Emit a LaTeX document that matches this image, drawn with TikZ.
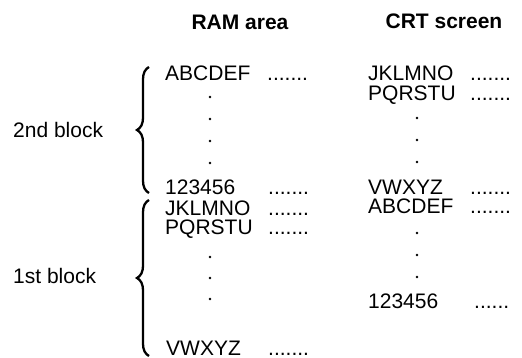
\documentclass[tikz,border=0pt]{standalone}
\usepackage{fontspec}
\setmainfont{Liberation Sans}
\usetikzlibrary{positioning,decorations.pathreplacing}

\begin{document}
\begin{tikzpicture}[
    x=1pt, y=-1pt,
    txt/.style={anchor=base west, inner sep=0pt, font=\fontsize{21}{22}\selectfont},
    hdr/.style={anchor=base, inner sep=0pt, font=\fontsize{21}{22}\selectfont\bfseries},
    lead/.style={txt},
    blockbrace/.style={decorate, decoration={brace, amplitude=12pt}, line width=2.3pt},
    vdot/.style={fill=black}
]
\useasboundingbox (0,0) rectangle (522,358);

% Headers
\node[hdr] (ramhead) at (240,30) {RAM area};
\node[hdr] (crthead) at (444,29) {CRT screen};

% RAM area
\node[txt] (ram1) at (165,81) {ABCDEF};
\node[txt] (ram2) at (165,195) {123456};
\node[txt] (ram3) at (165,215) {JKLMNO};
\node[txt] (ram4) at (165,235) {PQRSTU};
\node[txt] (ram5) at (166,355) {VWXYZ};
\node[lead] (ramdots1) at (267,81) {.......};
\node[lead] (ramdots2) at (268,195) {.......};
\node[lead] (ramdots3) at (268,215) {.......};
\node[lead] (ramdots4) at (268,235) {.......};
\node[lead] (ramdots5) at (268,355) {.......};
\foreach \y in {97,119,141,163,257,278,299}
    \fill[vdot] (210,\y) circle (1.4pt);

% CRT screen
\node[txt] (crt1) at (368,81) {JKLMNO};
\node[txt] (crt2) at (368,101) {PQRSTU};
\node[txt] (crt3) at (368,195) {VWXYZ};
\node[txt] (crt4) at (368,214) {ABCDEF};
\node[txt] (crt5) at (368,308) {123456};
\node[lead] (crtdots1) at (470,81) {.......};
\node[lead] (crtdots2) at (470,101) {.......};
\node[lead] (crtdots3) at (470,195) {.......};
\node[lead] (crtdots4) at (470,214) {.......};
\node[lead] (crtdots5) at (474,308) {......};
\foreach \y in {118,140,162,233,255,277}
    \fill[vdot] (417,\y) circle (1.4pt);

% Blocks
\draw[blockbrace] (149,193) -- (149,67);
\draw[blockbrace] (149,356) -- (149,200);
\node[txt] (block2) at (13,138) {2nd block};
\node[txt] (block1) at (13,283) {1st block};

\end{tikzpicture}
\end{document}
